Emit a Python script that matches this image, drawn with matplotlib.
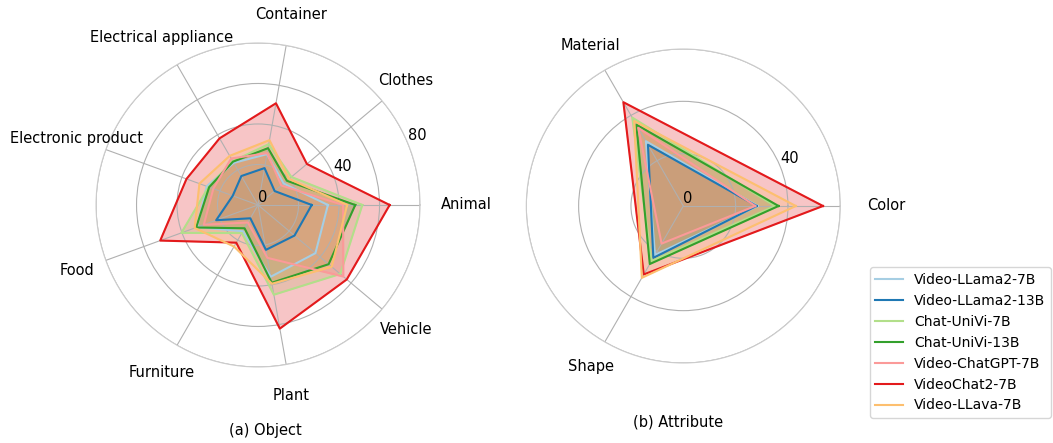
import numpy as np
import matplotlib
matplotlib.use("Agg")
import matplotlib.pyplot as plt

# --- data ---
MODELS = [
    "Video-LLama2-7B",
    "Video-LLama2-13B",
    "Chat-UniVi-7B",
    "Chat-UniVi-13B",
    "Video-ChatGPT-7B",
    "VideoChat2-7B",
    "Video-LLava-7B",
]
COLORS = ["#a6cee3", "#1f78b4", "#b2df8a", "#33a02c", "#fb9a99", "#e31a1c", "#fdbf6f"]

OBJECT_CATS = [
    "Animal", "Clothes", "Container", "Electrical appliance",
    "Electronic product", "Food", "Furniture", "Plant", "Vehicle",
]
OBJECT_SCORES = [
    [34.5, 16.5, 25.5, 24.0, 27.0, 32.0, 15.0, 36.0, 37.0],
    [26.5, 10.7, 18.5, 16.5, 13.3, 22.0, 7.6, 22.5, 23.5],
    [51.5, 21.5, 30.5, 25.0, 26.0, 40.3, 16.0, 45.0, 53.0],
    [48.0, 18.6, 28.5, 24.7, 25.7, 32.5, 13.3, 39.0, 45.5],
    [42.0, 15.0, 26.0, 26.5, 23.5, 28.5, 10.0, 26.5, 55.0],
    [65.0, 31.5, 51.0, 38.0, 37.6, 51.4, 21.5, 62.0, 57.2],
    [44.0, 20.0, 32.5, 28.0, 30.8, 33.3, 23.7, 39.5, 47.5],
]
OBJECT_TICKS = [0, 20, 40, 60, 80]
OBJECT_TICK_LABELS = ["0", "", "40", "", "80"]

ATTR_CATS = ["Color", "Material", "Shape"]
ATTR_SCORES = [
    [28.4, 28.6, 21.6],
    [28.0, 27.0, 22.9],
    [35.0, 39.0, 24.3],
    [36.4, 35.9, 25.6],
    [27.5, 34.5, 16.6],
    [53.4, 45.8, 30.2],
    [43.0, 37.5, 31.7],
]
ATTR_TICKS = [0, 20, 40, 60]
ATTR_TICK_LABELS = ["0", "", "40", ""]

FONT = 10.5


def draw_radar(ax, cats, scores, ticks, tick_labels, label_r, first_label_r):
    n = len(cats)
    angles = np.linspace(0, 2 * np.pi, n, endpoint=False)
    closed = np.concatenate([angles, angles[:1]])

    for name, color, vals in zip(MODELS, COLORS, scores):
        v = np.concatenate([vals, vals[:1]])
        ax.plot(closed, v, color=color, linewidth=1.5, label=name)
        ax.fill(closed, v, color=color, alpha=0.25)

    ax.set_ylim(0, ticks[-1])
    ax.set_yticks(ticks)
    ax.set_yticklabels(tick_labels, fontsize=FONT)
    ax.set_xticks(angles)
    ax.set_xticklabels([])
    ax.grid(True, color="#b0b0b0", linewidth=0.8)
    ax.spines["polar"].set_color("#cccccc")
    ax.spines["polar"].set_linewidth(0.8)

    for i, (a, c) in enumerate(zip(angles, cats)):
        r = first_label_r if i == 0 else label_r
        ax.text(a, r, c, ha="center", va="center", fontsize=FONT)


def main() -> None:
    fig = plt.figure(figsize=(10.53, 4.43), dpi=100)

    ax1 = fig.add_axes([0.0912, 0.1716, 0.3077, 0.7314], projection="polar")
    draw_radar(ax1, OBJECT_CATS, OBJECT_SCORES, OBJECT_TICKS, OBJECT_TICK_LABELS, 95.3, 103.0)

    ax2 = fig.add_axes([0.4998, 0.1806, 0.2982, 0.7088], projection="polar")
    draw_radar(ax2, ATTR_CATS, ATTR_SCORES, ATTR_TICKS, ATTR_TICK_LABELS, 70.9, 77.6)

    fig.text(265 / 1053, 1 - 431 / 443, "(a) Object", ha="center", va="center", fontsize=FONT)
    fig.text(678 / 1053, 1 - 422 / 443, "(b) Attribute", ha="center", va="center", fontsize=FONT)

    handles, labels = ax1.get_legend_handles_labels()
    fig.legend(
        handles, labels,
        loc="lower right",
        bbox_to_anchor=(1051 / 1053, 25 / 443),
        bbox_transform=fig.transFigure,
        borderaxespad=0,
        fontsize=10,
    )

    fig.savefig("out.png", dpi=100)
    plt.close(fig)


if __name__ == "__main__":
    main()
